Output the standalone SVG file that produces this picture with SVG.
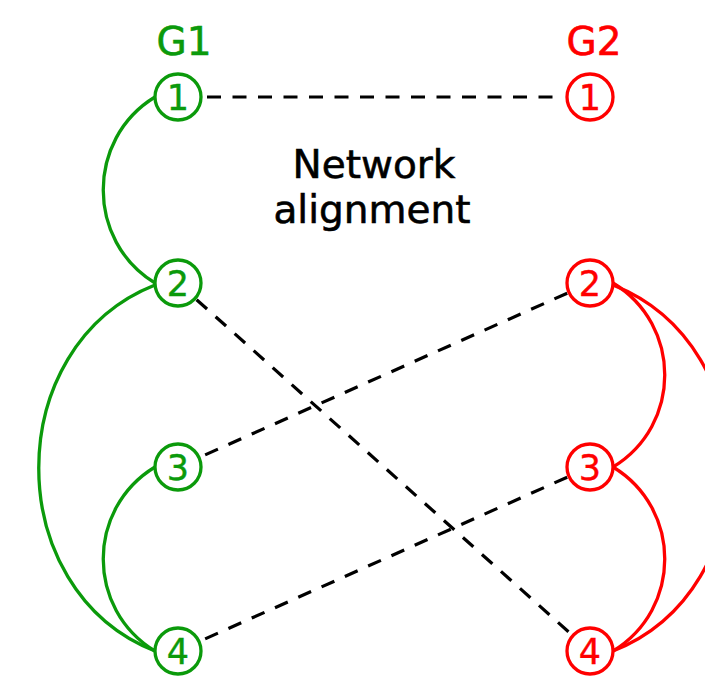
<svg xmlns="http://www.w3.org/2000/svg" width="705" height="691" viewBox="0 0 705 691">
  <style>
    .g1 { stroke: #0b9a0b; }
    .g2 { stroke: #ff0000; }
    .edge { fill: none; stroke-width: 3.3; }
    .align { fill: none; stroke: #000; stroke-width: 3.2; stroke-dasharray: 14 11.5; }
    .node circle { fill: #fff; stroke-width: 3.3; }
    .node text { font-family: "DejaVu Sans", sans-serif; font-size: 35px; text-anchor: middle; stroke-width: 0.4; }
    .g1t { fill: #0b9a0b; stroke: #0b9a0b; }
    .g2t { fill: #ff0000; stroke: #ff0000; }
    .title { font-family: "DejaVu Sans", sans-serif; font-size: 39px; text-anchor: middle; stroke-width: 0.6; }
    .dark { fill: #000; stroke: #000; }
  </style>

  <!-- graph titles -->
  <text class="title g1t" x="184" y="55">G1</text>
  <text class="title g2t" x="594" y="55">G2</text>
  <text class="title dark" x="374" y="178">Network</text>
  <text class="title dark" x="372" y="223">alignment</text>

  <g id="connectors">
    <!-- G1 edges -->
    <path class="edge g1" d="M155,97 C86,139 86,241 155,283"/>
    <path class="edge g1" d="M155,285 C0,346 0,590 155,651"/>
    <path class="edge g1" d="M155,467 C86,509 86,609 155,651"/>
    <!-- G2 edges -->
    <path class="edge g2" d="M613,283 C682,325 682,425 613,467"/>
    <path class="edge g2" d="M613,285 C768,346 768,590 613,651"/>
    <path class="edge g2" d="M613,467 C682,509 682,609 613,651"/>
    <!-- alignment links -->
    <line class="align" x1="207" y1="97" x2="558" y2="97"/>
    <line class="align" x1="196.6" y1="299.7" x2="571.4" y2="634.3"/>
    <line class="align" x1="567.2" y1="293.2" x2="200.8" y2="456.8"/>
    <line class="align" x1="567.2" y1="477.2" x2="200.8" y2="640.8"/>
  </g>

  <!-- G1 nodes -->
  <g id="g1-n1" class="node"><circle class="g1" cx="178" cy="97" r="23"/><text class="g1t" x="178" y="109.5">1</text></g>
  <g id="g1-n2" class="node"><circle class="g1" cx="178" cy="283" r="23"/><text class="g1t" x="178" y="295.5">2</text></g>
  <g id="g1-n3" class="node"><circle class="g1" cx="178" cy="467" r="23"/><text class="g1t" x="178" y="479.5">3</text></g>
  <g id="g1-n4" class="node"><circle class="g1" cx="178" cy="651" r="23"/><text class="g1t" x="178" y="663.5">4</text></g>

  <!-- G2 nodes -->
  <g id="g2-n1" class="node"><circle class="g2" cx="590" cy="97" r="23"/><text class="g2t" x="590" y="109.5">1</text></g>
  <g id="g2-n2" class="node"><circle class="g2" cx="590" cy="283" r="23"/><text class="g2t" x="590" y="295.5">2</text></g>
  <g id="g2-n3" class="node"><circle class="g2" cx="590" cy="467" r="23"/><text class="g2t" x="590" y="479.5">3</text></g>
  <g id="g2-n4" class="node"><circle class="g2" cx="590" cy="651" r="23"/><text class="g2t" x="590" y="663.5">4</text></g>
</svg>
